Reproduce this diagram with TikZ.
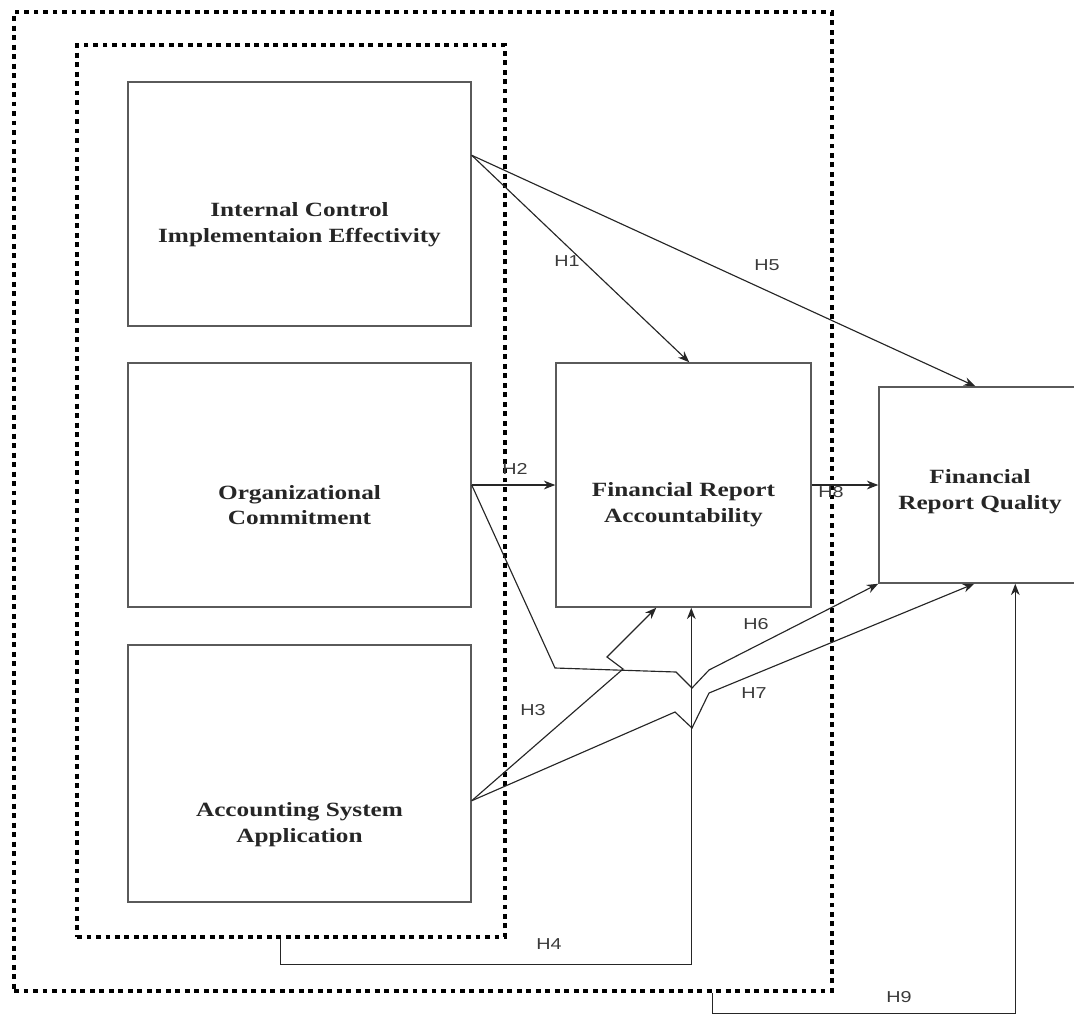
\documentclass[tikz,border=0pt]{standalone}
\usepackage{fontspec}
\setmainfont{Liberation Serif}
\newfontfamily\boxfont[FakeStretch=1.25]{Liberation Serif}
\newfontfamily\hypfont[FakeStretch=1.25]{Liberation Sans}
\usepackage{tikz}
\usetikzlibrary{arrows.meta,calc}
\usepackage{xcolor}
\definecolor{fwLine}{HTML}{5A5A5A}
\definecolor{fwArrow}{HTML}{262626}
\definecolor{fwLabel}{HTML}{3A3A3A}
\tikzset{
    varbox/.style={rectangle,draw=fwLine,line width=0.85pt,minimum width=6.86cm,minimum height=4.88cm,inner sep=0pt},
    vartext/.style={font=\boxfont\bfseries\fontsize{11.5}{14.7}\selectfont,align=center,text=black!85},
    groupbox/.style={rectangle,draw=black,line width=2.5pt,dash pattern=on 2.8pt off 2.6pt,inner sep=0pt},
    % Hypothesis connectors
    hyp/.style={-{Stealth[length=6.5pt,width=5pt]},fwArrow,line width=0.65pt},
    hyplabel/.style={font=\hypfont\fontsize{9}{10}\selectfont,text=fwLabel,inner sep=1pt}
}

\begin{document}
\begin{tikzpicture}[x=0.02cm,y=-0.02cm]
    \useasboundingbox (0,0) rectangle (1074,1014);
    \clip (0,0) rectangle (1074,1014);

    % Dotted groups
    \node[groupbox, minimum width=16.36cm, minimum height=19.58cm] at (423,501.5) (outer) {};
    \node[groupbox, minimum width=8.56cm, minimum height=17.84cm] at (291,491) (inner) {};

    % Independent variables
    \node[varbox] at (299.5,204) (ice) {};
    \node[vartext] at ($(ice.center)+(0,21)$) (iceT) {Internal Control\\Implementaion Effectivity};
    \node[varbox] at (299.5,485) (oc) {};
    \node[vartext] at ($(oc.center)+(0,20)$) (ocT) {Organizational\\Commitment};
    \node[varbox, minimum height=5.14cm] at (299.5,773.5) (asa) {};
    \node[vartext] at ($(asa.center)+(0,51)$) (asaT) {Accounting System\\Application};

    % Accountability and Quality
    \node[varbox, minimum width=5.1cm] at (683.5,485) (fra) {};
    \node[vartext] at ($(fra.center)+(0,20)$) (fraT) {Financial Report\\Accountability};
    \node[varbox, minimum width=4.04cm, minimum height=3.92cm] at (980,485) (frq) {};
    \node[vartext] at ($(frq.center)+(0,7)$) (frqT) {Financial\\Report Quality};

    % Connector ends
    \coordinate (iceout) at ($(ice.north east)+(0,74)$);
    \coordinate (asaout) at ($(asa.south east)+(0,-102)$);
    \coordinate (h4out) at ($(inner.south west)+(206,0)$);
    \coordinate (h9out) at ($(outer.south west)+(701,0)$);

    % Hypotheses
    \draw[hyp] (iceout) -- ($(fra.north west)+(134,0)$);
    \draw[hyp] (iceout) -- ($(frq.north west)+(97,0)$);
    \draw[hyp] (oc.east) -- (fra.west);
    \draw[hyp] (asaout) -- (623,669) -- (607,657) -- ($(fra.south west)+(101,0)$);
    \draw[hyp] (h4out) -- ++(0,25) -| ($(fra.south west)+(136,0)$);
    \draw[hyp] (oc.east) -- (555,668) -- (676,672) -- (692,688) -- (709,670) -- (frq.south west);
    \draw[hyp] (asaout) -- (675,712) -- (692,728) -- (709,693) -- ($(frq.south west)+(96,0)$);
    \draw[hyp] (fra.east) -- (frq.west);
    \draw[hyp] (h9out) -- ++(0,20.5) -| ($(frq.south west)+(137,0)$);

    % Labels
    \node[hyplabel] at (567,261) (h1) {H1};
    \node[hyplabel] at (515,469) (h2) {H2};
    \node[hyplabel] at (533,710) (h3) {H3};
    \node[hyplabel] at (549,944) (h4) {H4};
    \node[hyplabel] at (767,265) (h5) {H5};
    \node[hyplabel] at (756,624) (h6) {H6};
    \node[hyplabel] at (754,693) (h7) {H7};
    \node[hyplabel] at (831,492) (h8) {H8};
    \node[hyplabel] at (899,997) (h9) {H9};
\end{tikzpicture}
\end{document}
